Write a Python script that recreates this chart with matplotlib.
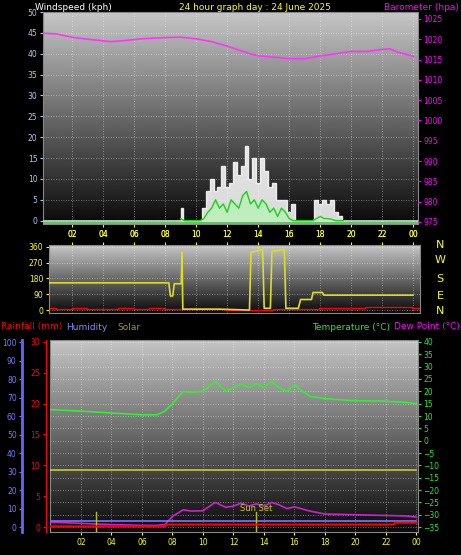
import numpy as np
import matplotlib
matplotlib.use("Agg")
import matplotlib.pyplot as plt

# ---- data ----
baro_hours = [0, 1, 2, 3, 4, 4.5, 5.5, 6.5, 8, 9, 10, 11, 12, 13, 13.5, 14, 15, 16, 17, 18, 19, 20, 21, 22, 22.5, 23, 24]
baro_vals = [1021.5, 1021.3, 1020.5, 1020.0, 1019.6, 1019.4, 1019.7, 1020.1, 1020.4, 1020.5, 1020.1,
             1019.4, 1018.3, 1017.0, 1016.4, 1015.9, 1015.6, 1015.2, 1015.2, 1015.9, 1016.4, 1017.0,
             1017.0, 1017.5, 1017.6, 1016.8, 1015.8]

wind_hours = [9.0, 9.25, 9.5, 10.25, 10.5, 10.75, 11.0, 11.25, 11.5, 11.75, 12.0, 12.25, 12.5, 12.75, 13.0,
              13.25, 13.5, 13.75, 14.0, 14.25, 14.5, 14.75, 15.0, 15.25, 15.5, 15.75, 16.0, 16.25, 16.5,
              17.5, 17.75, 18.0, 18.25, 18.5, 18.75, 19.0, 19.25, 19.5]
wind_gust = [3, 0, 0, 0, 3, 7, 10, 7, 8, 13, 8, 9, 14, 11, 13, 18, 10, 15, 9, 15, 12, 8, 9, 5, 5, 5, 2, 4, 0,
             0, 5, 4, 5, 4, 5, 2, 1, 0]
wind_avg = [0.5, 0, 0, 0, 0.5, 2, 3, 5, 3, 4, 2, 5, 4, 3, 6, 7, 4, 5, 3, 5, 4, 2, 3, 1, 3, 2, 0.5, 0, 0,
            0, 0.5, 1, 0.5, 0.5, 0.3, 0, 0, 0]

dir_hours = [0, 8.25, 8.35, 8.5, 8.6, 9.05, 9.1, 9.15, 11.5, 13.45, 13.55, 14.3, 14.4, 14.8, 14.9, 15.7,
             15.8, 16.6, 16.75, 17.45, 17.55, 18.15, 18.25, 24]
dir_vals = [155, 155, 80, 80, 150, 150, 330, 5, 5, 0, 330, 345, 10, 10, 335, 345, 10, 10, 60, 60, 100, 100, 85, 85]
rain_noise = [10, 6, 12, 4, 8, 9, 5, 11, 6, 7, 4, 3, 2, 1, 2, 3, 4, 8, 10, 12, 14, 16, 18, 15, 12]

temp_hours = [0, 2, 4, 6, 7, 7.5, 8, 8.7, 9.2, 10, 10.8, 11.5, 12, 12.5, 13, 13.5, 14, 14.5, 15, 15.5,
              16, 17, 18, 20, 22, 23.3, 24]
temp_vals = [12.6, 12.0, 11.2, 10.5, 10.5, 12.0, 15.0, 20.0, 19.5, 20.0, 24.0, 20.0, 21.5, 23.0, 21.5,
             23.0, 21.5, 24.0, 21.5, 20.0, 22.5, 18.0, 17.0, 16.2, 16.0, 15.5, 15.0]
dew_vals = [-33.0, -33.5, -34.0, -34.3, -34.3, -34.0, -30.7, -28.0, -28.5, -28.4, -25.0, -27.0, -26.5,
            -25.3, -26.5, -25.6, -26.5, -25.0, -26.0, -27.5, -26.8, -28.5, -29.7, -30.0, -30.3, -30.5, -31.0]
hum_hours = [0, 24]
hum_vals = [3, 3]
solar_vals = [30.6, 30.6]
rain_hours = [0, 7.5, 7.6, 22.5, 22.6, 24]
rain_vals = [0.1, 0.1, 0.4, 0.4, 0.7, 0.7]
sun_events = [3.0, 13.5]

xtick_hours = list(range(2, 25, 2))
xtick_labels = ["%02d" % (h % 24) for h in xtick_hours]

W, H = 461, 555
fig = plt.figure(figsize=(W / 100, H / 100), dpi=100, facecolor="black")


def px_axes(x0, y0, x1, y1):
    return fig.add_axes([x0 / W, 1 - y1 / H, (x1 - x0) / W, (y1 - y0) / H])


def style(ax, xlim, ylim, yticks, grid_y):
    # light grey at the top fading to black at the bottom
    grad = np.linspace(1, 0, 256).reshape(-1, 1)
    ax.imshow(grad, cmap="gray", vmin=-0.05, vmax=1.3, aspect="auto",
              extent=[0, 1, 0, 1], transform=ax.transAxes, zorder=0)
    ax.set_xlim(*xlim)
    ax.set_ylim(*ylim)
    for h in xtick_hours:
        ax.axvline(h, color="white", lw=0.6, ls=(0, (1, 2)), alpha=0.5, zorder=1)
    for y in grid_y:
        ax.axhline(y, color="white", lw=0.6, ls=(0, (1, 2)), alpha=0.5, zorder=1)
    ax.set_xticks(xtick_hours)
    ax.set_xticklabels(xtick_labels)
    ax.tick_params(axis="x", colors="yellow", labelsize=5.5, length=2, pad=2)
    ax.set_yticks(yticks)
    for s in ax.spines.values():
        s.set_color("#888888")


tp = {"fontsize": 6.5}

# ---- top: wind + barometer ----
ax1 = px_axes(43, 12, 418, 224)
style(ax1, (0.13, 24.3), (-0.8, 50), range(0, 51, 5), range(0, 51, 5))
ax1.tick_params(axis="y", colors="#aaccee", labelsize=5.5, length=2, pad=2)
ax1.fill_between(wind_hours, wind_gust, step="mid", color="white", alpha=0.85, zorder=2)
ax1.fill_between(wind_hours, wind_avg, step="mid", color="#bbf0bb", alpha=0.9, zorder=3)
ax1.plot(wind_hours, wind_avg, color="#22cc22", lw=1, zorder=4)
ax1.axhline(0, color="#dddddd", lw=1.2, zorder=3)
ax1.axhline(-0.6, color="#55cc55", lw=1.5, zorder=3)
axb = ax1.twinx()
axb.set_ylim(974.5, 1026.7)
axb.set_yticks(range(975, 1026, 5))
axb.tick_params(axis="y", colors="magenta", labelsize=5.5, length=2, pad=2)
axb.plot(baro_hours, baro_vals, color="#ff33ff", lw=1.2)
for s in axb.spines.values():
    s.set_visible(False)
fig.text(35 / W, 1 - 7 / H, "Windspeed (kph)", color="white", va="center", **tp)
fig.text(255 / W, 1 - 7 / H, "24 hour graph day : 24 June 2025", color="yellow", ha="center", va="center", **tp)
fig.text(459 / W, 1 - 7 / H, "Barometer (hpa)", color="magenta", ha="right", va="center", **tp)

# ---- middle: wind direction ----
ax2 = px_axes(49, 245, 420, 313)
style(ax2, (0.52, 24.45), (-17, 371), range(0, 361, 90), range(0, 361, 90))
ax2.tick_params(axis="y", colors="yellow", labelsize=5.5, length=2, pad=2)
ax2.tick_params(axis="x", top=True, labeltop=True, bottom=False, labelbottom=False)
ax2.plot(np.linspace(0.5, 24.4, len(rain_noise)), rain_noise, color="red", lw=1, zorder=2,
         drawstyle="steps-mid")
ax2.plot(dir_hours, dir_vals, color="#dddd22", lw=1.2, zorder=3)
for lab, y in zip(["N", "W", "S", "E", "N"], [245, 260, 279, 296, 311]):
    fig.text(440 / W, 1 - y / H, lab, color="yellow", ha="center", va="center", fontsize=8)

# ---- bottom: temperature, humidity, rain ----
ax3 = px_axes(50, 340, 418, 532)
style(ax3, (-0.03, 24.1), (-37.0, 40.8), range(-35, 41, 5), range(-35, 41, 5))
ax3.plot(temp_hours, temp_vals, color="#33ee33", lw=1.2, zorder=4)
ax3.plot(temp_hours, dew_vals, color="#cc22cc", lw=1.2, zorder=4)

axh = ax3.twinx()
axh.set_ylim(-2.7, 101.1)
axh.yaxis.tick_left()
axh.spines["left"].set_position(("outward", 20))
axh.spines["left"].set_color("#6666ff")
axh.spines["left"].set_linewidth(2)
for k in ["top", "right", "bottom"]:
    axh.spines[k].set_visible(False)
axh.set_yticks(range(0, 101, 10))
axh.tick_params(axis="y", colors="#7777ff", labelsize=5.5, length=2, pad=2)
axh.plot(hum_hours, hum_vals, color="#7777ff", lw=1.2, zorder=3)
axh.plot(hum_hours, solar_vals, color="#cccc22", lw=1.2, zorder=3)
for h in sun_events:
    axh.plot([h, h], [-3, 8], color="#bbbb22", lw=1, zorder=3)
axh.text(13.5, 7.5, "Sun Set", color="#cccc22", ha="center", va="bottom", fontsize=6)

axr = ax3.twinx()
axr.set_ylim(-0.8, 30.3)
axr.yaxis.tick_left()
axr.spines["left"].set_position(("outward", 3))
axr.spines["left"].set_color("red")
for k in ["top", "right", "bottom"]:
    axr.spines[k].set_visible(False)
axr.set_yticks(range(0, 31, 5))
axr.tick_params(axis="y", colors="red", labelsize=5.5, length=2, pad=2)
axr.plot(rain_hours, rain_vals, color="red", lw=1.5, zorder=3)

# twinx moves the original ticks to the left, so put temperature back on the right
ax3.yaxis.tick_right()
ax3.tick_params(axis="y", colors="#22ee22", labelsize=5.5, length=2, pad=2)

fig.text(1 / W, 1 - 327 / H, "Rainfall (mm)", color="red", va="center", **tp)
fig.text(66 / W, 1 - 327 / H, "Humidity", color="#8888ff", va="center", **tp)
fig.text(117 / W, 1 - 327 / H, "Solar", color="#999922", va="center", **tp)
fig.text(312 / W, 1 - 327 / H, "Temperature (\u00b0C)", color="#22ee22", va="center", **tp)
fig.text(460 / W, 1 - 327 / H, "Dew Point (\u00b0C)", color="magenta", ha="right", va="center", **tp)

fig.savefig("out.png", dpi=100, facecolor="black")
